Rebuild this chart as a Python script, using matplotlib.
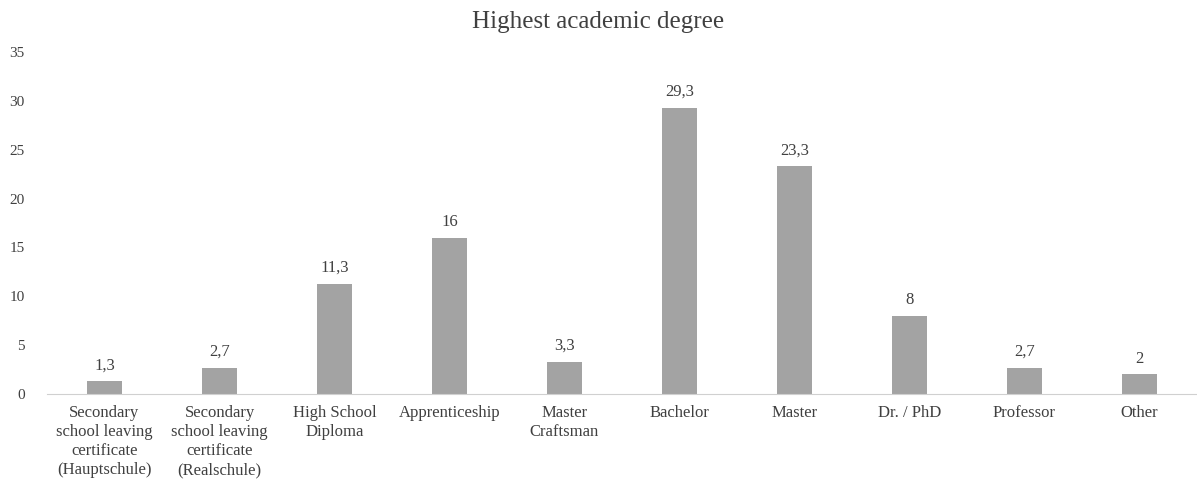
import matplotlib.pyplot as plt
import numpy as np

categories = [
    "Secondary\nschool leaving\ncertificate\n(Hauptschule)",
    "Secondary\nschool leaving\ncertificate\n(Realschule)",
    "High School\nDiploma",
    "Apprenticeship",
    "Master\nCraftsman",
    "Bachelor",
    "Master",
    "Dr. / PhD",
    "Professor",
    "Other",
]
values = [1.3, 2.7, 11.3, 16, 3.3, 29.3, 23.3, 8, 2.7, 2]
yticks = [0, 5, 10, 15, 20, 25, 30, 35]

plt.rcParams['font.family'] = ['Liberation Serif', 'DejaVu Serif']
text_col = '#404040'

fig = plt.figure(figsize=(11.97, 4.86), dpi=100)
ax = fig.add_axes([47 / 1197, 1 - 394 / 486, 1 - 47 / 1197, (394 - 52) / 486])

x = np.arange(len(categories))
ax.bar(x, values, width=0.31, color='#a3a3a3')

# value labels with decimal comma
for xi, v in zip(x, values):
    lbl = f"{v:g}".replace('.', ',')
    ax.text(xi, v + 0.8, lbl, ha='center', va='bottom', fontsize=12, color=text_col)

ax.set_xlim(-0.5, len(categories) - 0.5)
ax.set_ylim(0, 35)
ax.set_yticks(yticks)
ax.set_xticks(x)
ax.set_xticklabels(categories, fontsize=12, color=text_col, linespacing=1.25)
ax.tick_params(axis='both', length=0, labelcolor=text_col)
ax.tick_params(axis='y', labelsize=11, pad=16)
ax.tick_params(axis='x', pad=8)

for s in ['top', 'right', 'left']:
    ax.spines[s].set_visible(False)
ax.spines['bottom'].set_color('#d0d0d0')

fig.text(0.5, 1 - 22 / 486, "Highest academic degree", ha='center', va='center',
         fontsize=18, color=text_col)

fig.savefig('out.png', dpi=100)
